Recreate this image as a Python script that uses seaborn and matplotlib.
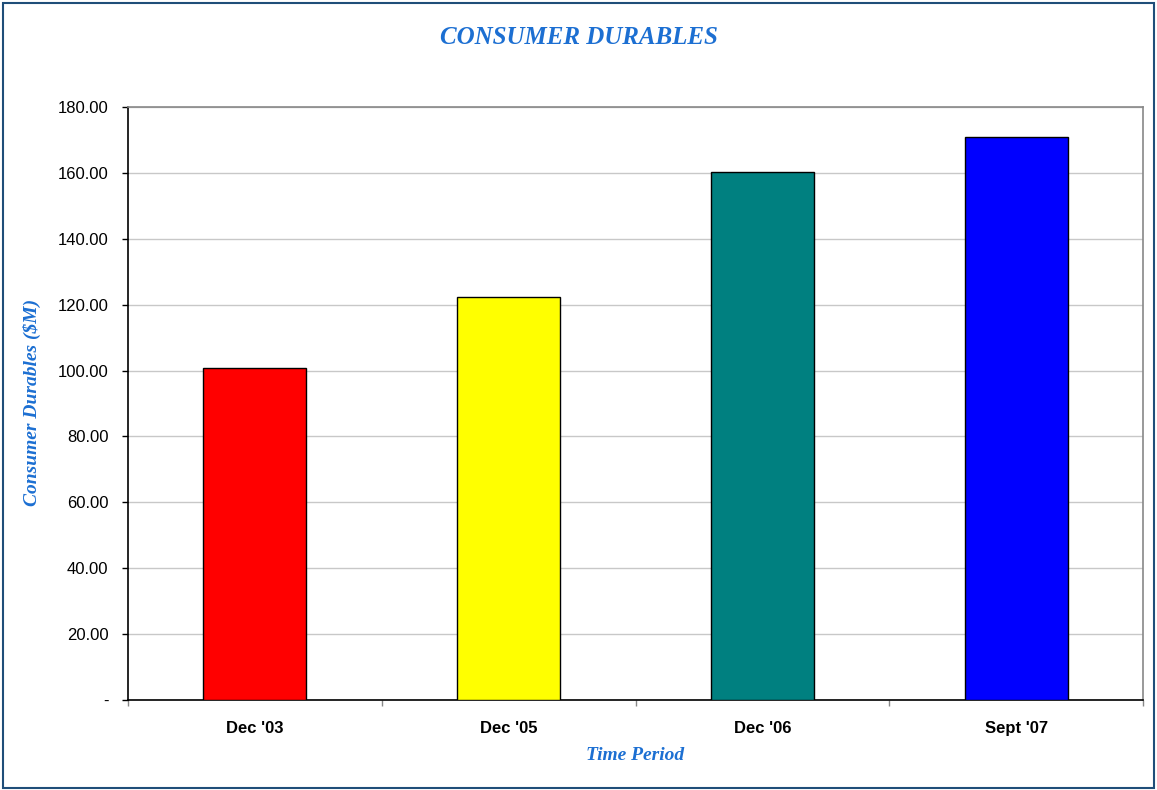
import matplotlib
matplotlib.use("Agg")
import matplotlib.pyplot as plt
import seaborn as sns
import pandas as pd
from matplotlib.patches import Rectangle
from matplotlib.ticker import FuncFormatter, FixedLocator

categories = ["Dec '03", "Dec '05", "Dec '06", "Sept '07"]
values = [100.8, 122.3, 160.4, 170.9]
colors = ["#FF0000", "#FFFF00", "#008080", "#0000FF"]
yticks = [0, 20, 40, 60, 80, 100, 120, 140, 160, 180]

title = "CONSUMER DURABLES"
xlabel = "Time Period"
ylabel = "Consumer Durables ($M)"

sns.set_theme(style="white")
plt.rcParams['font.family'] = ['Liberation Sans', 'DejaVu Sans']

df = pd.DataFrame({"period": categories, "value": values})

fig = plt.figure(figsize=(11.57, 7.90), dpi=100)
ax = fig.add_axes([128/1157, 90/790, 1015/1157, 593/790])

sns.barplot(data=df, x="period", y="value", hue="period", palette=colors,
            legend=False, width=0.405, edgecolor="black", linewidth=1.0,
            saturation=1, ax=ax, zorder=3)

ax.set_ylim(0, 180)
ax.set_xlim(-0.5, len(categories) - 0.5)
ax.yaxis.set_major_locator(FixedLocator(yticks))
ax.yaxis.set_major_formatter(FuncFormatter(lambda v, p: "-" if v == 0 else f"{v:.2f}"))
ax.grid(axis="y", color="#c8c8c8", linewidth=1.0, zorder=0)
ax.grid(axis="x", visible=False)
ax.set_axisbelow(True)

for s in ["left", "bottom"]:
    ax.spines[s].set_color("black")
    ax.spines[s].set_linewidth(1.2)
for s in ["top", "right"]:
    ax.spines[s].set_color("#888888")
    ax.spines[s].set_linewidth(1.2)

ax.tick_params(axis="y", which="major", direction="out", length=4, width=1,
               color="black", pad=10, labelsize=12, labelcolor="black", left=True)
ax.set_xticks(range(len(categories)))
ax.set_xticklabels(categories, fontweight="bold")
ax.set_xticks([i - 0.5 for i in range(len(categories) + 1)], minor=True)
ax.tick_params(axis="x", which="major", length=0, pad=15, labelsize=12, labelcolor="black")
ax.tick_params(axis="x", which="minor", direction="out", length=4, width=1,
               color="#888888", bottom=True)

serif = ['Liberation Serif', 'DejaVu Serif']
blue = "#1C6FD2"
ax.set_xlabel("")
ax.set_ylabel("")
fig.text(0.5, 1 - 38/790, title, ha="center", va="center", family=serif,
         fontweight="bold", fontstyle="italic", fontsize=18, color=blue)
fig.text(635/1157, 1 - 755/790, xlabel, ha="center", va="center", family=serif,
         fontweight="bold", fontstyle="italic", fontsize=14, color=blue)
fig.text(32/1157, 1 - 402/790, ylabel, ha="center", va="center", rotation=90,
         family=serif, fontweight="bold", fontstyle="italic", fontsize=14, color=blue)

fig.patches.append(Rectangle((3/1157, 2/790), 1151/1157, 785/790,
                             transform=fig.transFigure, fill=False,
                             edgecolor="#1F4E79", linewidth=1.5))

fig.savefig("out.png", dpi=100)
